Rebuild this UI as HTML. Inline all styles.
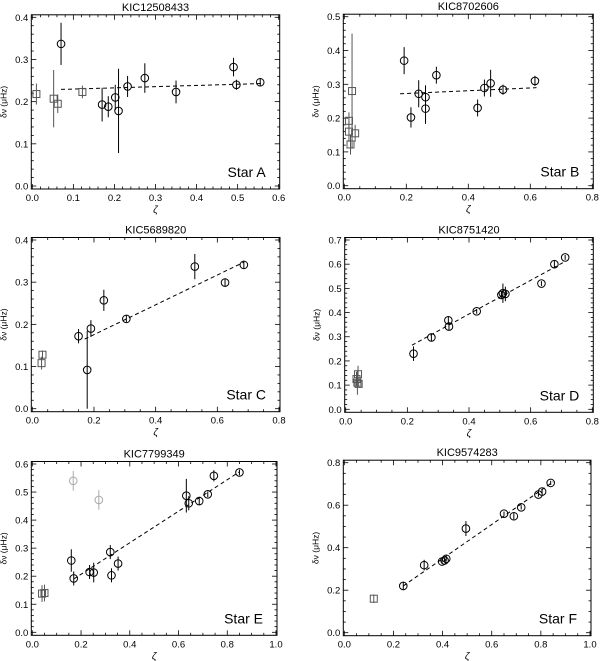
<!DOCTYPE html>
<html><head><meta charset="utf-8">
<style>
html,body{margin:0;padding:0;background:#fff;}
svg{display:block;font-family:"Liberation Sans",sans-serif;}
</style></head>
<body>
<svg id="fig" width="600" height="661" viewBox="0 0 600 661" xmlns="http://www.w3.org/2000/svg"></svg>
<script>
// ---- Data (x = zeta, y = delta nu, e = error, s = shape: q square, c circle, g grey circle) ----
const titles = ["KIC12508433","KIC8702606","KIC5689820","KIC8751420","KIC7799349","KIC9574283"];
const starLabels = ["Star A","Star B","Star C","Star D","Star E","Star F"];
const xMaxes = [0.6,0.8,0.8,0.8,1.0,1.0];
const yMaxes = [0.4,0.5,0.4,0.7,0.6,0.8];
const xSteps = [0.1,0.2,0.2,0.2,0.2,0.2];
const ySteps = [0.1,0.1,0.1,0.1,0.1,0.2];
const ptsA = [[0.01,0.218,0.025,'q'],[0.052,0.207,0.068,'q'],[0.062,0.195,0.022,'q'],[0.122,0.223,0.015,'q'],
 [0.07,0.337,0.05,'c'],[0.17,0.193,0.04,'c'],[0.185,0.188,0.025,'c'],[0.202,0.21,0.03,'c'],[0.21,0.178,0.1,'c'],
 [0.232,0.236,0.025,'c'],[0.274,0.256,0.035,'c'],[0.35,0.223,0.027,'c'],[0.49,0.282,0.022,'c'],[0.497,0.24,0.012,'c'],[0.555,0.246,0.01,'c']];
const ptsB = [[0.015,0.192,0.025,'q'],[0.015,0.16,0.03,'q'],[0.02,0.122,0.03,'q'],[0.025,0.28,0.17,'q'],[0.035,0.155,0.025,'q'],
 [0.193,0.37,0.04,'c'],[0.215,0.202,0.03,'c'],[0.24,0.272,0.04,'c'],[0.262,0.262,0.035,'c'],[0.262,0.228,0.045,'c'],
 [0.297,0.327,0.025,'c'],[0.43,0.23,0.025,'c'],[0.452,0.289,0.025,'c'],[0.472,0.303,0.04,'c'],[0.512,0.284,0.015,'c'],[0.615,0.31,0.015,'c']];
const ptsC = [[0.03,0.108,0.015,'q'],[0.033,0.128,0.01,'q'],
 [0.15,0.172,0.017,'c'],[0.178,0.092,0.092,'c'],[0.19,0.19,0.02,'c'],[0.232,0.257,0.025,'c'],[0.305,0.213,0.008,'c'],
 [0.527,0.337,0.03,'c'],[0.625,0.299,0.01,'c'],[0.686,0.341,0.01,'c']];
const ptsD = [[0.035,0.125,0.03,'q'],[0.038,0.11,0.05,'q'],[0.04,0.145,0.035,'q'],[0.042,0.105,0.01,'q'],
 [0.22,0.23,0.03,'c'],[0.278,0.297,0.015,'c'],[0.333,0.368,0.015,'c'],[0.335,0.342,0.015,'c'],[0.425,0.405,0.01,'c'],
 [0.505,0.473,0.015,'c'],[0.51,0.48,0.04,'c'],[0.518,0.477,0.03,'c'],[0.635,0.52,0.01,'c'],[0.677,0.6,0.015,'c'],[0.712,0.628,0.01,'c']];
const ptsE = [[0.04,0.138,0.03,'q'],[0.05,0.14,0.03,'q'],[0.168,0.54,0.035,'g'],[0.273,0.472,0.035,'g'],
 [0.16,0.256,0.04,'c'],[0.17,0.192,0.025,'c'],[0.235,0.215,0.025,'c'],[0.252,0.213,0.035,'c'],[0.32,0.286,0.025,'c'],
 [0.325,0.203,0.025,'c'],[0.352,0.245,0.025,'c'],[0.632,0.487,0.06,'c'],[0.642,0.46,0.025,'c'],[0.685,0.468,0.015,'c'],
 [0.72,0.492,0.01,'c'],[0.745,0.558,0.02,'c'],[0.85,0.57,0.01,'c']];
const ptsF = [[0.12,0.16,0.02,'q'],
 [0.24,0.22,0.02,'c'],[0.325,0.318,0.025,'c'],[0.398,0.335,0.01,'c'],[0.408,0.34,0.01,'c'],[0.415,0.348,0.01,'c'],
 [0.495,0.49,0.035,'c'],[0.65,0.56,0.01,'c'],[0.69,0.548,0.015,'c'],[0.72,0.59,0.01,'c'],[0.79,0.65,0.01,'c'],
 [0.805,0.664,0.01,'c'],[0.84,0.705,0.01,'c']];
const allPts = [ptsA,ptsB,ptsC,ptsD,ptsE,ptsF];
const fitLines = [[0.07,0.229,0.56,0.243],[0.18,0.272,0.62,0.29],[0.17,0.165,0.685,0.347],
 [0.215,0.265,0.71,0.61],[0.17,0.19,0.85,0.572],[0.24,0.22,0.85,0.71]];

// ---- Layout ----
const frames = [
 {x0:32.3,x1:278.7,y0:186,y1:17.3},
 {x0:344.3,x1:592.3,y0:185.7,y1:16.7},
 {x0:32.3,x1:279,y0:408.7,y1:240},
 {x0:345.7,x1:592.3,y0:409.3,y1:240},
 {x0:32.3,x1:276,y0:632.3,y1:464},
 {x0:344.3,x1:590,y0:632.7,y1:462.7}
];
const NS="http://www.w3.org/2000/svg";
const svg=document.getElementById('fig');
function mk(tag,attrs,parent){const e=document.createElementNS(NS,tag);for(const k in attrs)e.setAttribute(k,attrs[k]);(parent||svg).appendChild(e);return e;}
function fmt(v,step){return v.toFixed(1);}

frames.forEach((f,i)=>{
  const g=mk('g',{});
  
  
  const xm=xMaxes[i], ym=yMaxes[i];
  const X=v=>f.x0+(f.x1-f.x0)*v/xm;
  const Y=v=>f.y0+(f.y1-f.y0)*v/ym;
  const bl=f.x0-1,br=f.x1+1,bt=f.y1-2.5,bb=f.y0+3;
  const box=mk('rect',{x:bl,y:bt,width:br-bl,height:bb-bt,fill:'none',stroke:'#000','stroke-width':1},g);
  
  
  // x ticks
  const xs=xSteps[i], nMajX=Math.round(xm/xs), minorX=xs===0.1?5:4;
  for(let k=0;k<=nMajX*minorX;k++){
    const v=k*xs/minorX, px=X(v), len=(k%minorX===0)?5:2.5;
    mk('line',{x1:px,y1:bb,x2:px,y2:bb-len,stroke:'#000','stroke-width':0.8},g);
    mk('line',{x1:px,y1:bt,x2:px,y2:bt+len,stroke:'#000','stroke-width':0.8},g);
    if(k%minorX===0){
      const t=mk('text',{x:px,y:bb+12,'font-size':9.5,'text-anchor':'middle',fill:'#000'},g);
      t.textContent=fmt(v);
      
      
    }
  }
  const ys=ySteps[i], nMajY=Math.round(ym/ys), minorY=ys===0.1?5:4;
  for(let k=0;k<=nMajY*minorY;k++){
    const v=k*ys/minorY, py=Y(v), len=(k%minorY===0)?5:2.5;
    mk('line',{x1:bl,y1:py,x2:bl+len,y2:py,stroke:'#000','stroke-width':0.8},g);
    mk('line',{x1:br,y1:py,x2:br-len,y2:py,stroke:'#000','stroke-width':0.8},g);
    if(k%minorY===0){
      const t=mk('text',{x:bl-3,y:py+3.5,'font-size':9.5,'text-anchor':'end',fill:'#000'},g);
      t.textContent=fmt(v);
      
      
    }
  }
  const title=mk('text',{x:(bl+br)/2,y:bt-4,'font-size':11,'text-anchor':'middle',fill:'#000'},g);
  title.textContent=titles[i];
  
  
  const xl=mk('text',{x:(bl+br)/2,y:bb+24,'font-size':10,'text-anchor':'middle','font-style':'italic',fill:'#000'},g);
  xl.textContent='ζ';
  
  
  const yc=(bt+bb)/2;
  const yl=mk('text',{x:bl-25,y:yc,'font-size':8.5,'text-anchor':'middle',fill:'#000',transform:`rotate(-90 ${bl-25} ${yc})`},g);
  yl.textContent='δν (μHz)';
  
  
  const sl=mk('text',{x:br-14,y:bb-12,'font-size':14,'text-anchor':'end',fill:'#000'},g);
  sl.textContent=starLabels[i];
  
  
  // fit line
  const L=fitLines[i];
  const fl=mk('line',{x1:X(L[0]),y1:Y(L[1]),x2:X(L[2]),y2:Y(L[3]),stroke:'#000','stroke-width':1,'stroke-dasharray':'4,3'},g);
  
  
  // points
  allPts[i].forEach(p=>{
    const col=p[3]==='g'?'#aaa':(p[3]==='q'?'#555':'#000');
    const px=X(p[0]), py=Y(p[1]);
    const eb=mk('line',{x1:px,y1:Y(Math.max(p[1]-p[2],0)),x2:px,y2:Y(p[1]+p[2]),stroke:col,'stroke-width':1},g);
    
    
    let m;
    if(p[3]==='q'){
      m=mk('rect',{x:px-3.5,y:py-3.5,width:7,height:7,fill:'none',stroke:col,'stroke-width':1},g);
    } else {
      m=mk('circle',{cx:px,cy:py,r:3.8,fill:'none',stroke:col,'stroke-width':1},g);
    }
    
    
  });
});
</script>
</body></html>
